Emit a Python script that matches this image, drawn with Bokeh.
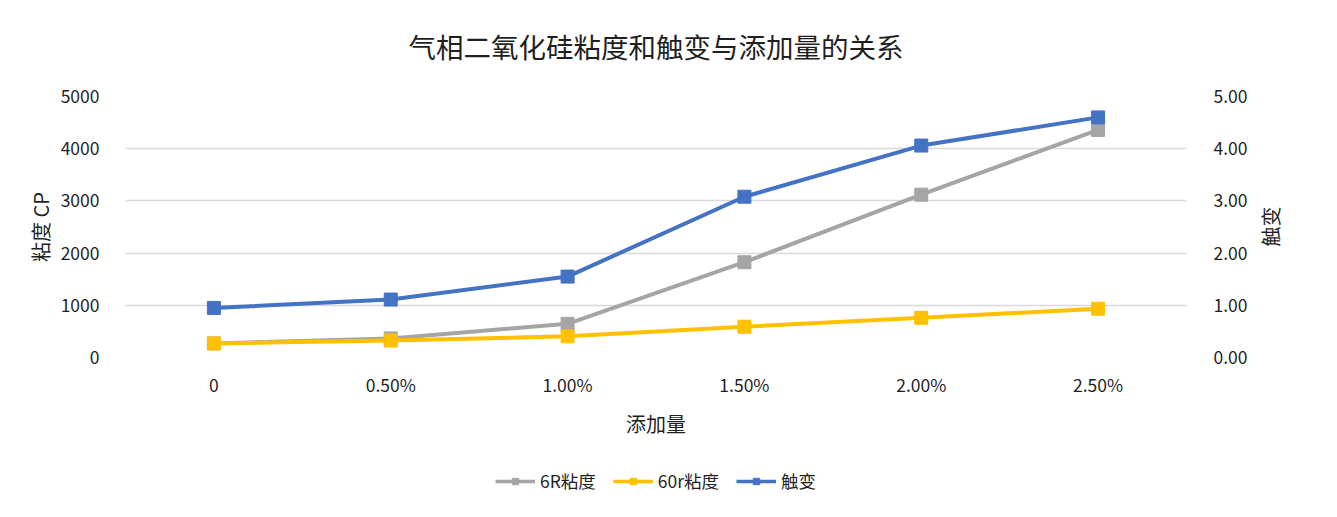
import math
from bokeh.plotting import figure
from bokeh.layouts import column, row
from bokeh.models import (FactorRange, Range1d, LinearAxis, FixedTicker, NumeralTickFormatter,
                          Legend, LegendItem, Label)
from bokeh.embed import file_html
from bokeh.resources import INLINE

categories = ["0", "0.50%", "1.00%", "1.50%", "2.00%", "2.50%"]
visc_6r = [270, 365, 645, 1825, 3120, 4360]
visc_60r = [270, 325, 405, 590, 760, 935]
thixotropy = [0.95, 1.11, 1.55, 3.08, 4.06, 4.60]
series_names = ["6R粘度", "60r粘度", "触变"]
left_ticks = [0, 1000, 2000, 3000, 4000, 5000]
right_ticks = [0, 1, 2, 3, 4, 5]
title_text = "气相二氧化硅粘度和触变与添加量的关系"
left_label = "粘度 CP"
right_label = "触变"
x_label = "添加量"

FONT = "Noto Sans CJK SC"
TXT = "#1f1f1f"
TICK_FS = "17.5px"
LABEL_FS = "20px"
colors = ["#A5A5A5", "#FFC000", "#4472C4"]
MAIN_W = 1255
TOP_H = 70
FRAME_L, FRAME_R = 125, 1186


def strip(w, h):
    f = figure(width=w, height=h, x_range=Range1d(0, 1), y_range=Range1d(0, 1),
               output_backend="svg", toolbar_location=None, min_border=0,
               outline_line_color=None, x_axis_location=None, y_axis_location=None)
    f.grid.visible = False
    return f


# title strip (its frame is aligned with the main frame by the column layout)
tt = strip(MAIN_W, TOP_H)
tt.add_layout(Label(x=(FRAME_R - FRAME_L) / 2, y=TOP_H - 45, x_units="screen", y_units="screen",
                    text=title_text, text_align="center", text_baseline="middle",
                    text_font=FONT, text_font_size="27.5px", text_color=TXT))

p = figure(width=MAIN_W, height=460 - TOP_H, x_range=FactorRange(*categories, range_padding=0),
           y_range=Range1d(0, 5000), output_backend="svg", toolbar_location=None,
           min_border_left=FRAME_L, min_border_right=MAIN_W - FRAME_R, min_border_top=96 - TOP_H,
           min_border_bottom=103, outline_line_color=None)
p.extra_y_ranges = {"right": Range1d(0, 5)}

ya = p.yaxis[0]
ya.ticker = FixedTicker(ticks=left_ticks)
ya.formatter = NumeralTickFormatter(format="0")
ya.axis_label = left_label
ya.axis_line_color = None
ya.major_tick_line_color = None
ya.minor_tick_line_color = None
ya.major_label_standoff = 20
ya.axis_label_standoff = 3
ya.major_label_text_font = FONT
ya.major_label_text_font_size = TICK_FS
ya.major_label_text_color = TXT
ya.axis_label_text_font = FONT
ya.axis_label_text_font_size = LABEL_FS
ya.axis_label_text_font_style = "normal"
ya.axis_label_text_color = TXT

ra = LinearAxis(y_range_name="right", ticker=FixedTicker(ticks=right_ticks),
                formatter=NumeralTickFormatter(format="0.00"))
ra.axis_line_color = None
ra.major_tick_line_color = None
ra.minor_tick_line_color = None
ra.major_label_standoff = 21
ra.major_label_text_font = FONT
ra.major_label_text_font_size = TICK_FS
ra.major_label_text_color = TXT
p.add_layout(ra, "right")

xa = p.xaxis[0]
xa.axis_label = x_label
xa.axis_line_color = None
xa.major_tick_line_color = None
xa.minor_tick_line_color = None
xa.major_label_standoff = 8
xa.axis_label_standoff = 9
xa.major_label_text_font = FONT
xa.major_label_text_font_size = TICK_FS
xa.major_label_text_color = TXT
xa.axis_label_text_font = FONT
xa.axis_label_text_font_size = LABEL_FS
xa.axis_label_text_font_style = "normal"
xa.axis_label_text_color = TXT

p.xgrid.grid_line_color = None
p.ygrid.ticker = FixedTicker(ticks=left_ticks)
p.ygrid.grid_line_color = "#D9D9D9"
p.ygrid.grid_line_width = 1.3

series = [(series_names[0], visc_6r, colors[0], "default"),
          (series_names[1], visc_60r, colors[1], "default"),
          (series_names[2], thixotropy, colors[2], "right")]
for name, vals, col, rng in series:
    p.line(categories, vals, line_color=col, line_width=4, line_join="round", y_range_name=rng)
    p.scatter(categories, vals, marker="square", size=13, fill_color=col,
              line_color=col, y_range_name=rng)

# legend strip (separate figure; its glyphs are kept outside its visible range)
lg = figure(width=MAIN_W, height=57, x_range=FactorRange(*categories), y_range=Range1d(-2e6, -1e6),
            output_backend="svg", toolbar_location=None, min_border=0,
            outline_line_color=None, x_axis_location=None, y_axis_location=None)
lg.grid.visible = False
items = []
for name, vals, col, rng in series:
    l = lg.line(categories, vals, line_color=col, line_width=3.5)
    s = lg.scatter(categories, vals, marker="square", size=9, fill_color=col, line_color=col)
    items.append(LegendItem(label=name, renderers=[l, s]))
legend = Legend(items=items, orientation="horizontal", location=(370, 24),
                glyph_width=40, glyph_height=16, label_standoff=5, spacing=17,
                padding=0, margin=0, border_line_color=None, background_fill_alpha=0,
                label_text_font=FONT, label_text_font_size=TICK_FS, label_text_color=TXT)
lg.add_layout(legend, "center")

# secondary axis title strip (reads bottom-to-top like the reference)
rl = strip(1337 - MAIN_W, 517)
rl.add_layout(Label(x=1270 - MAIN_W, y=517 - 226, x_units="screen", y_units="screen",
                    text=right_label, angle=math.pi / 2, text_align="center",
                    text_baseline="middle", text_font=FONT, text_font_size=LABEL_FS,
                    text_color=TXT))

open("out.html", "w").write(file_html(row(column(tt, p, lg, spacing=0), rl, spacing=0), INLINE))
